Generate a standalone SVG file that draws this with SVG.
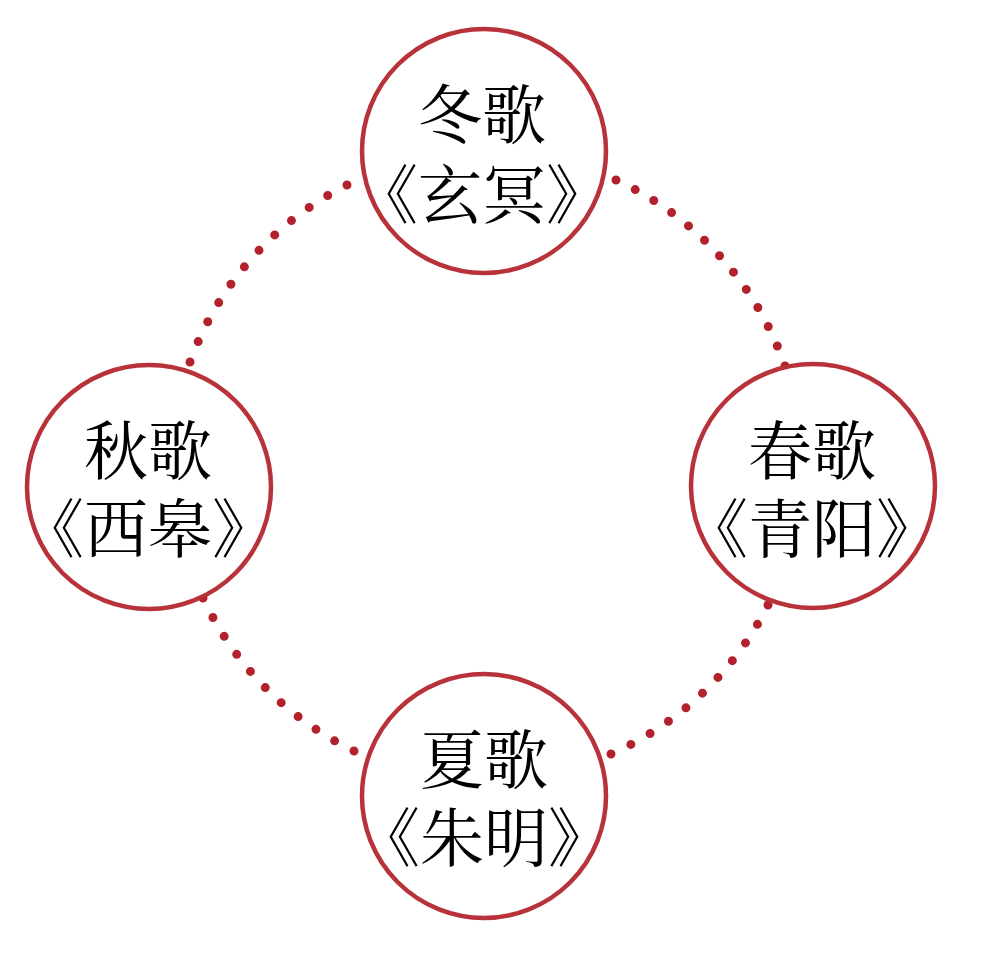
<svg xmlns="http://www.w3.org/2000/svg" width="989" height="967" viewBox="0 0 989 967">
<style>
.ring{fill:#fff;stroke:#b8323a;stroke-width:4.5}
.dots{fill:none;stroke:#b3222c;stroke-width:9;stroke-linecap:round;stroke-dasharray:0 1}
.t{font-family:"Noto Serif CJK SC","Noto Sans CJK SC",serif;font-size:64px;fill:#000;text-anchor:middle;dominant-baseline:central}
</style>
<rect width="989" height="967" fill="#fff"/>
<g id="connectors">
<path class="dots" pathLength="11" d="M347 185 A320 320 0 0 0 190 362"/>
<path class="dots" pathLength="12" d="M616 180 A320 320 0 0 1 785 366"/>
<path class="dots" pathLength="10" d="M768 605 A320 320 0 0 1 611 754"/>
<path class="dots" pathLength="10" d="M203 598 A320 320 0 0 0 354 751"/>
</g>
<g id="winter">
<circle class="ring" cx="484" cy="151" r="122"/>
<text class="t" x="482" y="110">冬歌</text>
<text class="t" x="482" y="190">《玄冥》</text>
</g>
<g id="autumn">
<circle class="ring" cx="149" cy="487" r="122"/>
<text class="t" x="148" y="446">秋歌</text>
<text class="t" x="148" y="524">《西皋》</text>
</g>
<g id="spring">
<circle class="ring" cx="813" cy="486" r="122"/>
<text class="t" x="812" y="446">春歌</text>
<text class="t" x="812" y="524">《青阳》</text>
</g>
<g id="summer">
<circle class="ring" cx="484" cy="796" r="122"/>
<text class="t" x="484" y="755">夏歌</text>
<text class="t" x="484" y="833">《朱明》</text>
</g>
</svg>
